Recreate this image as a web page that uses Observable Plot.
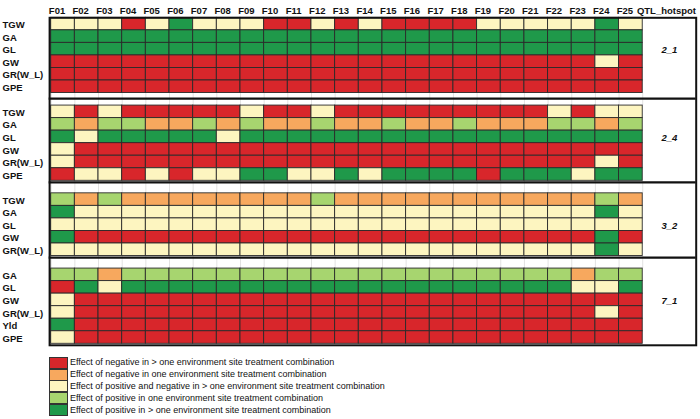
<!DOCTYPE html>
<html><head><meta charset="utf-8">
<script src="https://cdn.jsdelivr.net/npm/d3@7"></script>
<script src="https://cdn.jsdelivr.net/npm/@observablehq/plot@0.6"></script>
<style>
body{margin:0;background:#fff;font-family:"Liberation Sans",Arial,sans-serif;}
#chart svg{display:block;}
#legend{margin-left:49px;margin-top:9.7px;}
.li{display:flex;align-items:center;height:11.9px;}
.sw{width:19px;height:12px;box-sizing:border-box;border:1px solid #333;margin-bottom:-0.1px;}
.lt{font-size:9px;color:#111;margin-left:2px;line-height:11px;white-space:nowrap;}
</style></head>
<body>
<div id="chart"></div>
<div id="legend"></div>
<script>
// Column labels (families)
const columns = ["F01","F02","F03","F04","F05","F06","F07","F08","F09","F10","F11","F12","F13",
                 "F14","F15","F16","F17","F18","F19","F20","F21","F22","F23","F24","F25"];

// Effect categories: R neg >1 env, O neg one env, Y pos&neg, L pos one env, G pos >1 env
const effectCodes = ["R","O","Y","L","G"];
const effectLabels = [
  "Effect of negative in > one environment site treatment combination",
  "Effect of negative in one environment site treatment combination",
  "Effect of positive and negative in > one environment site treatment combination",
  "Effect of positive in one environment site treatment combination",
  "Effect of positive in > one environment site treatment combination"
];
const effectColors = ["#d8262b","#f7a85e","#fdf5c0","#a7d56f","#1f994a"];

// QTL hotspots
const hotspots = ["2_1","2_4","3_2","7_1"];

// Hotspot 2_1
const traits_2_1 = ["TGW","GA","GL","GW","GR(W_L)","GPE"];
const effects_2_1 = [
  "YYYRYGYYYRRYRYRRRRYYYYYGY",
  "GGGGGGGGGGGGGGGGGGGGGGGGG",
  "GGGGGGGGGGGGGGGGGGGGGGGGG",
  "RRRRRRRRRRRRRRRRRRRRRRRYR",
  "RRRRRRRRRRRRRRRRRRRRRRRRR",
  "RRRRRRRRRRRRRRRRRRRRRRRRR"
];
// Hotspot 2_4
const traits_2_4 = ["TGW","GA","GL","GW","GR(W_L)","GPE"];
const effects_2_4 = [
  "YRYRRRRRYRRYRRRRRRRRRYRYY",
  "LOLLOOLOLOOLOOLOOLOOOLLOL",
  "GYGGGGGYGGGGGGGGGGGGGGGGG",
  "YRRRRRRRRRRRRRRRRRRRRRRRR",
  "YRRRRRRRRRRRRRRRRRRRRRRYR",
  "RYYRYRYYGGYYGYGGGGRGGGYGG"
];
// Hotspot 3_2
const traits_3_2 = ["TGW","GA","GL","GW","GR(W_L)"];
const effects_3_2 = [
  "LOLOOOOOOOOLOOOOOOOOOOOLO",
  "GYYYYYYYYYYYYYYYYYYYYYYGY",
  "YYYYYYYYYYYYYYYYYYYYYYYYY",
  "GRRRRRRRRRRRRRRRRRRRRRRGR",
  "YYYYYYYYYYYYYYYYYYYYYYYGY"
];
// Hotspot 7_1
const traits_7_1 = ["GA","GL","GW","GR(W_L)","Yld","GPE"];
const effects_7_1 = [
  "LLOLLLLLLLLLLLLLLLLLLLOLL",
  "RGYGGGGGGGGGGGGGGGGGGGYYG",
  "YRRRRRRRRRRRRRRRRRRRRRRRR",
  "YRRRRRRRRRRRRRRRRRRRRRRYR",
  "GRRRRRRRRRRRRRRRRRRRRRRRR",
  "YRRRRRRRRRRRRRRRRRRRRRRRR"
];

// ---- build tables ----
const panelTraits = [traits_2_1, traits_2_4, traits_3_2, traits_7_1];
const panelEffects = [effects_2_1, effects_2_4, effects_3_2, effects_7_1];
const dividerOffsets = [0.44, 0.13, 0.12]; // style: where thick divider sits in spacer row

const color = new Map(effectCodes.map((c, i) => [c, effectColors[i]]));
const rows = [], cells = [], panels = [], spacers = [];
let r = 0;
hotspots.forEach((h, p) => {
  if (p > 0) { spacers.push(r); r++; }
  const start = r;
  panelTraits[p].forEach((t, k) => {
    rows.push({trait: t, row: r});
    [...panelEffects[p][k]].forEach((code, c) => cells.push({row: r, col: c, code}));
    r++;
  });
  panels.push({hotspot: h, start, end: r});
});
const nRows = r;
const nCols = columns.length;
const hotW = 2.26;
const xMax = nCols + hotW;

const gridLines = [];
spacers.forEach(s => d3.range(nCols + 1).forEach(i => gridLines.push({x: i, y1: s, y2: s + 1})));
const dividers = spacers.map((s, i) => s + dividerOffsets[i]);

const fontFam = "Liberation Sans, Arial, sans-serif";
const chart = Plot.plot({
  width: 700,
  height: 347,
  marginLeft: 50.7,
  marginRight: 4.3,
  marginTop: 17.3,
  marginBottom: 3.7,
  style: {fontFamily: fontFam, background: "#fff"},
  x: {domain: [0, xMax], axis: null},
  y: {domain: [0, nRows], reverse: true, axis: null},
  marks: [
    Plot.ruleX(gridLines, {x: "x", y1: "y1", y2: "y2", stroke: "#e2e2e2", strokeWidth: 1}),
    Plot.rect(cells, {
      x1: d => d.col, x2: d => d.col + 1,
      y1: d => d.row, y2: d => d.row + 1,
      fill: d => color.get(d.code),
      stroke: "#2a2a2a", strokeWidth: 0.9
    }),
    Plot.ruleY(dividers, {y: d => d, stroke: "#111", strokeWidth: 2.2, insetLeft: -2}),
    Plot.frame({stroke: "#111", strokeWidth: 2, insetLeft: -1.6, insetBottom: -1.5}),
    Plot.text(columns, {
      x: (d, i) => i + 0.5, text: d => d, frameAnchor: "top", dy: -10.5, dx: -6,
      fontWeight: "bold", fontSize: 9.5, fill: "#111"
    }),
    Plot.text(["QTL_hotspot"], {
      x: nCols + hotW / 2, text: d => d, frameAnchor: "top", dy: -10.5, dx: -3,
      fontWeight: "bold", fontSize: 9.5, fill: "#111"
    }),
    Plot.text(rows, {
      y: d => d.row + 0.5, text: "trait", frameAnchor: "left", dx: -48.7, dy: 1,
      textAnchor: "start", fontWeight: "bold", fontSize: 9.5, fill: "#111"
    }),
    Plot.text(panels, {
      x: nCols + hotW / 2, y: d => d.start + 2.6, text: "hotspot",
      fontWeight: "bold", fontStyle: "italic", fontSize: 9.5, fill: "#111"
    })
  ]
});
document.getElementById("chart").appendChild(chart);

const legend = d3.select("#legend");
effectCodes.forEach((c, i) => {
  const item = legend.append("div").attr("class", "li");
  item.append("div").attr("class", "sw").style("background", effectColors[i]);
  item.append("div").attr("class", "lt").text(effectLabels[i]);
});
</script>
</body></html>
